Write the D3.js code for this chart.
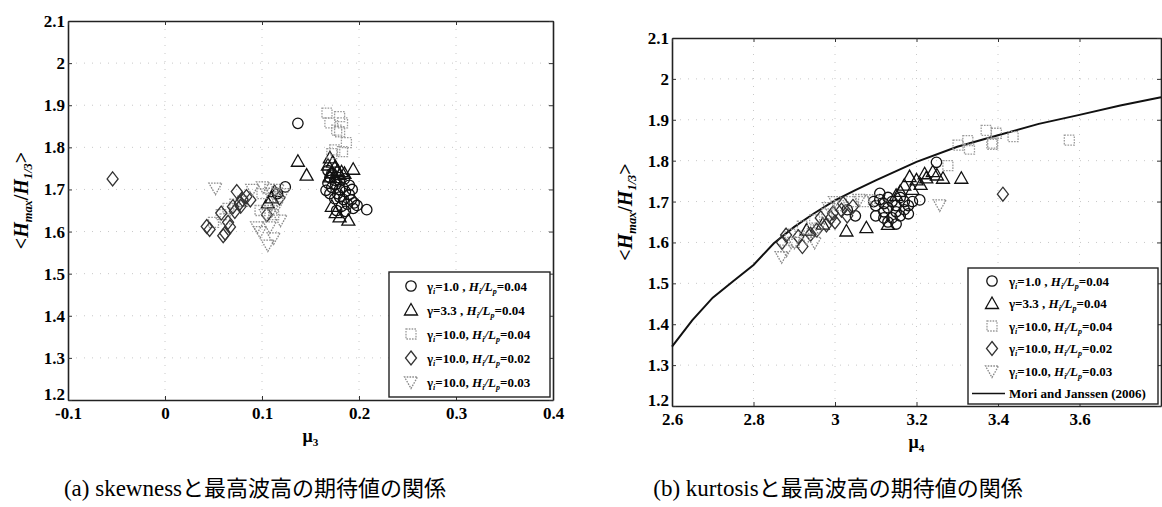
<!DOCTYPE html>
<html>
<head>
<meta charset="utf-8">
<script src="https://cdn.jsdelivr.net/npm/d3@7/dist/d3.min.js"></script>
<style>
  html, body { margin: 0; padding: 0; background: #fff; }
  svg { display: block; }
  .tick text { font-family: "Times New Roman", "Liberation Serif", Tinos, "DejaVu Serif", serif; font-weight: bold; font-size: 17px; fill: #000; }
</style>
</head>
<body>
<svg id="fig" width="1162" height="507"></svg>
<script>
// ---- axis ticks ----
const skewTicks = [-0.1, 0, 0.1, 0.2, 0.3, 0.4];
const skewTickLabels = ["-0.1", "0", "0.1", "0.2", "0.3", "0.4"];
const kurtTicks = [2.6, 2.8, 3.0, 3.2, 3.4, 3.6, 3.8];
const kurtTickLabels = ["2.6", "2.8", "3", "3.2", "3.4", "3.6", ""];
const ratioTicks = [1.2, 1.3, 1.4, 1.5, 1.6, 1.7, 1.8, 1.9, 2.0, 2.1];
const ratioTickLabels = ["1.2", "1.3", "1.4", "1.5", "1.6", "1.7", "1.8", "1.9", "2", "2.1"];

// ---- (a) skewness mu3 vs <Hmax/H1/3> ----
const skewG1 = [[0.168,1.745],[0.172,1.738],[0.170,1.728],[0.175,1.722],[0.168,1.715],[0.172,1.705],[0.166,1.698],[0.170,1.690],[0.176,1.712],[0.180,1.700],[0.178,1.690],[0.183,1.705],[0.186,1.695],[0.180,1.682],[0.175,1.678],[0.184,1.676],[0.190,1.688],[0.192,1.675],[0.188,1.665],[0.195,1.668],[0.182,1.660],[0.177,1.650],[0.186,1.648],[0.194,1.655],[0.198,1.662],[0.208,1.652],[0.180,1.720],[0.185,1.725],[0.190,1.710],[0.193,1.700],[0.124,1.706],[0.116,1.690],[0.137,1.857]];
const skewG33 = [[0.137,1.767],[0.146,1.734],[0.194,1.748],[0.170,1.775],[0.173,1.765],[0.168,1.758],[0.175,1.752],[0.178,1.745],[0.172,1.740],[0.180,1.735],[0.176,1.728],[0.182,1.742],[0.170,1.730],[0.185,1.738],[0.180,1.635],[0.189,1.627],[0.176,1.645],[0.172,1.660],[0.110,1.680],[0.106,1.668],[0.113,1.695]];
const skewG10s04 = [[0.167,1.881],[0.180,1.873],[0.183,1.858],[0.170,1.858],[0.177,1.841],[0.180,1.837],[0.187,1.811],[0.175,1.794],[0.172,1.785],[0.183,1.790],[0.050,1.622],[0.058,1.640],[0.065,1.655],[0.072,1.665],[0.080,1.672],[0.062,1.630],[0.100,1.690],[0.108,1.700],[0.098,1.650],[0.112,1.640]];
const skewG10s02 = [[-0.054,1.725],[0.043,1.612],[0.046,1.605],[0.062,1.596],[0.058,1.644],[0.065,1.622],[0.067,1.611],[0.070,1.659],[0.074,1.695],[0.077,1.667],[0.080,1.676],[0.084,1.683],[0.072,1.648],[0.078,1.660],[0.088,1.675],[0.060,1.590],[0.105,1.640],[0.118,1.680]];
const skewG10s03 = [[0.052,1.703],[0.101,1.706],[0.108,1.611],[0.106,1.568],[0.095,1.611],[0.115,1.659],[0.111,1.691],[0.119,1.627],[0.104,1.640],[0.098,1.600],[0.112,1.585],[0.110,1.650],[0.116,1.700],[0.090,1.700],[0.122,1.690]];

// ---- (b) kurtosis mu4 vs <Hmax/H1/3> ----
const kurtG1 = [[3.095,1.700],[3.10,1.690],[3.11,1.705],[3.12,1.695],[3.13,1.685],[3.12,1.675],[3.14,1.700],[3.15,1.690],[3.15,1.675],[3.16,1.665],[3.14,1.660],[3.13,1.650],[3.17,1.700],[3.18,1.690],[3.17,1.680],[3.19,1.700],[3.16,1.710],[3.13,1.710],[3.11,1.720],[3.15,1.645],[3.12,1.660],[3.208,1.704],[3.18,1.670],[3.05,1.665],[3.03,1.680],[3.249,1.796],[3.10,1.665]];
const kurtG33 = [[3.183,1.761],[3.200,1.753],[3.224,1.758],[3.240,1.773],[3.265,1.757],[3.310,1.757],[3.028,1.628],[3.077,1.636],[3.130,1.644],[3.17,1.740],[3.19,1.730],[3.21,1.742],[3.16,1.725],[3.22,1.768],[3.25,1.765],[3.15,1.715],[2.93,1.630],[2.97,1.645]];
const kurtG10s04 = [[3.277,1.788],[3.302,1.838],[3.326,1.849],[3.330,1.828],[3.371,1.874],[3.396,1.867],[3.387,1.843],[3.437,1.859],[3.575,1.850],[3.385,1.840],[2.89,1.620],[2.92,1.640],[2.95,1.655],[2.98,1.670],[3.01,1.690],[2.90,1.600],[3.07,1.700],[3.04,1.700]];
const kurtG10s02 = [[3.412,1.718],[2.88,1.618],[2.91,1.614],[2.92,1.590],[2.955,1.630],[2.979,1.643],[2.995,1.672],[3.016,1.679],[3.044,1.688],[2.99,1.660],[3.00,1.650],[3.03,1.665],[2.94,1.620],[2.87,1.600],[3.02,1.695],[2.965,1.660]];
const kurtG10s03 = [[2.869,1.565],[2.881,1.581],[3.094,1.704],[3.257,1.692],[2.90,1.600],[2.93,1.610],[2.96,1.635],[3.00,1.700],[2.985,1.685],[3.06,1.705],[2.95,1.600]];

// Mori and Janssen (2006) expected maximum wave height vs kurtosis
const moriKurt  = [2.60, 2.65, 2.70, 2.75, 2.80, 2.85, 2.90, 2.95, 3.00, 3.05, 3.10, 3.20, 3.30, 3.40, 3.50, 3.60, 3.70, 3.80];
const moriRatio = [1.345, 1.410, 1.465, 1.505, 1.545, 1.598, 1.638, 1.672, 1.703, 1.728, 1.752, 1.797, 1.834, 1.862, 1.890, 1.912, 1.935, 1.955];

// ---- series appearance ----
const seriesStyle = [
  { shape: "circle",  stroke: "#111", dash: null },
  { shape: "triUp",   stroke: "#111", dash: null },
  { shape: "square",  stroke: "#9a9a9a", dash: "1.6,1.2" },
  { shape: "diamond", stroke: "#333", dash: null },
  { shape: "triDown", stroke: "#8a8a8a", dash: "1.6,1.2" }
];

function shapePath(shape) {
  const p = d3.path();
  if (shape === "circle") { p.arc(0, 0, 5.2, 0, 2 * Math.PI); }
  else if (shape === "triUp") { p.moveTo(0, -6.5); p.lineTo(6.5, 5); p.lineTo(-6.5, 5); p.closePath(); }
  else if (shape === "triDown") { p.moveTo(0, 6.5); p.lineTo(6.5, -5); p.lineTo(-6.5, -5); p.closePath(); }
  else if (shape === "square") { p.rect(-5, -5, 10, 10); }
  else if (shape === "diamond") { p.moveTo(0, -7); p.lineTo(5.5, 0); p.lineTo(0, 7); p.lineTo(-5.5, 0); p.closePath(); }
  return p.toString();
}

const svg = d3.select("#fig");
const serif = '"Times New Roman", "Liberation Serif", Tinos, "DejaVu Serif", serif';

// subscripted text builder: parts = [[text, kind]] where kind in {"n","i","sub","isub"}
function richText(sel, parts, size) {
  parts.forEach(([t, kind]) => {
    const ts = sel.append("tspan").text(t);
    if (kind === "i" || kind === "isub") ts.attr("font-style", "italic");
    if (kind === "sub" || kind === "isub") {
      ts.attr("font-size", size * 0.62).attr("baseline-shift", "-32%");
    }
  });
}

const legendParts = [
  [["γ","n"],["i","isub"],["=1.0  , ","n"],["H","i"],["i","isub"],["/","i"],["L","i"],["p","isub"],["=0.04","n"]],
  [["γ=3.3  , ","n"],["H","i"],["i","isub"],["/","i"],["L","i"],["p","isub"],["=0.04","n"]],
  [["γ","n"],["i","isub"],["=10.0, ","n"],["H","i"],["i","isub"],["/","i"],["L","i"],["p","isub"],["=0.04","n"]],
  [["γ","n"],["i","isub"],["=10.0, ","n"],["H","i"],["i","isub"],["/","i"],["L","i"],["p","isub"],["=0.02","n"]],
  [["γ","n"],["i","isub"],["=10.0, ","n"],["H","i"],["i","isub"],["/","i"],["L","i"],["p","isub"],["=0.03","n"]]
];

function drawPanel(cfg) {
  const { left, top, right, bottom, xDomain, xTicks, xLabels, series, curve, legend, xSub, captionLabel, captionText, captionX } = cfg;
  const x = d3.scaleLinear().domain(xDomain).range([left, right]);
  const y = d3.scaleLinear().domain([1.2, 2.1]).range([bottom, top]);
  const g = svg.append("g");

  // faint dotted grid
  g.append("g").selectAll("line").data(xTicks.slice(1, -1)).join("line")
    .attr("x1", d => x(d)).attr("x2", d => x(d)).attr("y1", top).attr("y2", bottom)
    .attr("stroke", "#c8c8c8").attr("stroke-width", 1).attr("stroke-dasharray", "1,7");
  g.append("g").selectAll("line").data(ratioTicks.slice(1, -1)).join("line")
    .attr("y1", d => y(d)).attr("y2", d => y(d)).attr("x1", left).attr("x2", right)
    .attr("stroke", "#c8c8c8").attr("stroke-width", 1).attr("stroke-dasharray", "1,7");

  // axes with inward ticks
  const xAxis = d3.axisBottom(x).tickValues(xTicks).tickFormat((d, i) => xLabels[i]).tickSizeInner(-4).tickSizeOuter(0).tickPadding(5);
  const yAxis = d3.axisLeft(y).tickValues(ratioTicks).tickFormat((d, i) => ratioTickLabels[i]).tickSizeInner(-4).tickSizeOuter(0).tickPadding(3);
  const gx = g.append("g").attr("transform", `translate(0,${bottom})`).call(xAxis);
  const gy = g.append("g").attr("transform", `translate(${left},0)`).call(yAxis);
  g.append("g").attr("transform", `translate(0,${top})`)
    .call(d3.axisTop(x).tickValues(xTicks).tickFormat("").tickSizeInner(-4).tickSizeOuter(0));
  g.append("g").attr("transform", `translate(${right},0)`)
    .call(d3.axisRight(y).tickValues(ratioTicks).tickFormat("").tickSizeInner(-4).tickSizeOuter(0));
  g.selectAll(".domain").attr("stroke", "#222").attr("stroke-width", 1.6);
  g.selectAll(".tick line").attr("stroke", "#333").attr("stroke-width", 1);
  gx.selectAll(".tick text").attr("dy", "0.85em");
  // lowest y label sits just above the corner, clear of the first x label
  gy.selectAll(".tick text").filter(d => d === 1.2).attr("dy", "-0.05em");

  // the curve
  if (curve) {
    const line = d3.line().x((d, i) => x(curve.xs[i])).y((d, i) => y(curve.ys[i]));
    g.append("path").datum(curve.xs).attr("d", line)
      .attr("fill", "none").attr("stroke", "#111").attr("stroke-width", 2);
  }

  // markers
  series.forEach((data, si) => {
    const st = seriesStyle[si];
    g.append("g").selectAll("path").data(data).join("path")
      .attr("d", shapePath(st.shape))
      .attr("transform", d => `translate(${x(d[0])},${y(d[1])})`)
      .attr("fill", "none").attr("stroke", st.stroke).attr("stroke-width", 1.3)
      .attr("stroke-dasharray", st.dash);
  });

  // legend
  const lg = g.append("g");
  lg.append("rect").attr("x", legend.x).attr("y", legend.y).attr("width", legend.w).attr("height", legend.h)
    .attr("fill", "#fff").attr("stroke", "#222").attr("stroke-width", 1.4);
  const rows = legendParts.length + (curve ? 1 : 0);
  for (let r = 0; r < rows; r++) {
    const cy = legend.y + legend.pad + r * legend.step;
    if (r < legendParts.length) {
      const st = seriesStyle[r];
      lg.append("path").attr("d", shapePath(st.shape)).attr("transform", `translate(${legend.x + legend.sym},${cy})`)
        .attr("fill", "none").attr("stroke", st.stroke).attr("stroke-width", 1.3).attr("stroke-dasharray", st.dash);
      const t = lg.append("text").attr("x", legend.x + legend.txt).attr("y", cy + 4.5)
        .attr("font-family", serif).attr("font-weight", "bold").attr("font-size", 13);
      richText(t, legendParts[r], 13);
    } else {
      lg.append("line").attr("x1", legend.x + 4).attr("x2", legend.x + legend.txt - 4).attr("y1", cy).attr("y2", cy)
        .attr("stroke", "#111").attr("stroke-width", 1.6);
      lg.append("text").attr("x", legend.x + legend.txt).attr("y", cy + 4.5)
        .attr("font-family", serif).attr("font-weight", "bold").attr("font-size", 13)
        .text("Mori and Janssen (2006)");
    }
  }

  // axis titles
  const xt = g.append("text").attr("x", (left + right) / 2).attr("y", bottom + 42)
    .attr("text-anchor", "middle").attr("font-family", serif).attr("font-weight", "bold").attr("font-size", 18);
  richText(xt, [["μ","n"],[xSub,"sub"]], 18);

  const yt = g.append("text").attr("transform", `translate(${left - 40},${(top + bottom) / 2 - 10}) rotate(-90)`)
    .attr("text-anchor", "middle").attr("font-family", serif).attr("font-weight", "bold").attr("font-size", 20);
  richText(yt, [["<","n"],["H","i"],["max","isub"],["/","n"],["H","i"],["1/3","isub"],[">","n"]], 20);

  // caption
  const ct = svg.append("text").attr("x", captionX).attr("y", 496).attr("text-anchor", "middle")
    .attr("font-family", serif).attr("font-size", 23);
  ct.append("tspan").text(captionLabel);
  ct.append("tspan").attr("font-family", '"Noto Sans CJK JP", sans-serif').attr("font-size", 22).text(captionText);
}

drawPanel({
  left: 68, top: 21, right: 553, bottom: 400,
  xDomain: [-0.1, 0.4], xTicks: skewTicks, xLabels: skewTickLabels,
  series: [skewG1, skewG33, skewG10s04, skewG10s02, skewG10s03],
  curve: null,
  legend: { x: 389, y: 272, w: 161, h: 125, pad: 14, step: 24, sym: 22, txt: 38 },
  xSub: "3",
  captionLabel: "(a) skewness", captionText: "と最高波高の期待値の関係", captionX: 255
});

drawPanel({
  left: 672, top: 38, right: 1161, bottom: 406,
  xDomain: [2.6, 3.8], xTicks: kurtTicks, xLabels: kurtTickLabels,
  series: [kurtG1, kurtG33, kurtG10s04, kurtG10s02, kurtG10s03],
  curve: { xs: moriKurt, ys: moriRatio },
  legend: { x: 968, y: 268, w: 190, h: 136, pad: 13, step: 22.5, sym: 24, txt: 41 },
  xSub: "4",
  captionLabel: "(b) kurtosis", captionText: "と最高波高の期待値の関係", captionX: 838
});
</script>
</body>
</html>
